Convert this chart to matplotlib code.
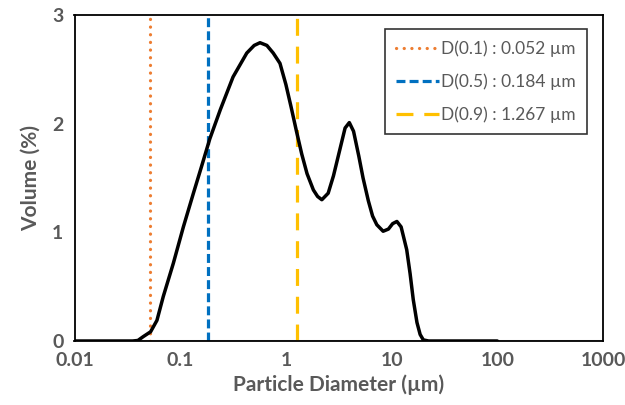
import matplotlib
matplotlib.use("Agg")
import matplotlib.pyplot as plt

# Particle size distribution: log10 of diameter (µm) and volume (%)
diam_log = [-2.0, -1.45, -1.40, -1.35, -1.28, -1.22, -1.16, -1.065, -0.97, -0.875, -0.80,
            -0.72, -0.62, -0.50, -0.37, -0.30, -0.245, -0.18, -0.12, -0.056, 0.0, 0.05, 0.10,
            0.15, 0.20, 0.26, 0.30, 0.34, 0.40, 0.45, 0.51, 0.56, 0.60, 0.64, 0.69, 0.73, 0.78,
            0.82, 0.86, 0.92, 0.97, 1.01, 1.05, 1.09, 1.143, 1.175, 1.205, 1.24, 1.27, 1.30,
            1.35, 2.0]
volume = [0, 0, 0.005, 0.04, 0.085, 0.19, 0.41, 0.715, 1.05, 1.36, 1.60,
          1.86, 2.13, 2.43, 2.65, 2.72, 2.745, 2.72, 2.65, 2.555, 2.36, 2.15, 1.93,
          1.72, 1.54, 1.39, 1.33, 1.30, 1.36, 1.52, 1.76, 1.96, 2.01, 1.93, 1.70, 1.50, 1.29,
          1.15, 1.07, 1.01, 1.03, 1.08, 1.10, 1.05, 0.84, 0.62, 0.38, 0.17, 0.06, 0.01,
          0, 0]
diameter = [10 ** v for v in diam_log]

d_labels = ["D(0.1) : 0.052 µm", "D(0.5) : 0.184 µm", "D(0.9) : 1.267 µm"]
d_values = [0.052, 0.184, 1.267]
d_colors = ["#ED7D31", "#0070C0", "#FFC000"]
d_styles = [(0, (0.05, 2.35)), (0, (2.8, 1.3)), (0, (5.3, 3.4))]
d_caps = ["round", "butt", "butt"]

x_ticks = [0.01, 0.1, 1, 10, 100, 1000]
x_ticklabels = ["0.01", "0.1", "1", "10", "100", "1000"]
y_ticks = [0, 1, 2, 3]

plt.rcParams['font.family'] = ['Lato', 'DejaVu Sans']
gray = "#595959"

fig = plt.figure(figsize=(6.25, 4.05), dpi=100)
ax = fig.add_axes([74.5 / 625, 1 - 341 / 405, (603 - 74.5) / 625, (341 - 15) / 405])

ax.axhline(0, color="#A6A6A6", lw=2.2, zorder=1)
for v, lab, c, ls, cap in zip(d_values, d_labels, d_colors, d_styles, d_caps):
    ax.plot([v, v], [0, 3], color=c, lw=2.3, linestyle=ls, label=lab,
            dash_capstyle=cap, zorder=2)
ax.plot(diameter, volume, color="black", lw=2.5, zorder=3,
        solid_capstyle="round", solid_joinstyle="round")

ax.set_xscale("log")
ax.set_xlim(0.01, 1000)
ax.set_ylim(0, 3)
ax.set_xticks(x_ticks)
ax.set_xticklabels(x_ticklabels)
ax.minorticks_off()
ax.set_yticks(y_ticks)
ax.tick_params(length=0, labelsize=14, labelcolor=gray, pad=8)
for t in ax.get_xticklabels() + ax.get_yticklabels():
    t.set_fontweight("bold")
for s in ax.spines.values():
    s.set_color("black")
    s.set_linewidth(1.3)

ax.set_xlabel("Particle Diameter (µm)", fontsize=15, fontweight="bold", color=gray, labelpad=4)
ax.set_ylabel("Volume (%)", fontsize=15, fontweight="bold", color=gray, labelpad=8)

leg = ax.legend(loc="upper right", bbox_to_anchor=(587 / 625, 1 - 29 / 405),
                bbox_transform=fig.transFigure, fontsize=12.5, frameon=True, fancybox=False,
                edgecolor="black", handlelength=2.5, handletextpad=0.1, labelspacing=0.95,
                borderpad=0.65, borderaxespad=0)
leg.get_frame().set_linewidth(1.2)
for t in leg.get_texts():
    t.set_color(gray)

fig.savefig("out.png", dpi=100)
